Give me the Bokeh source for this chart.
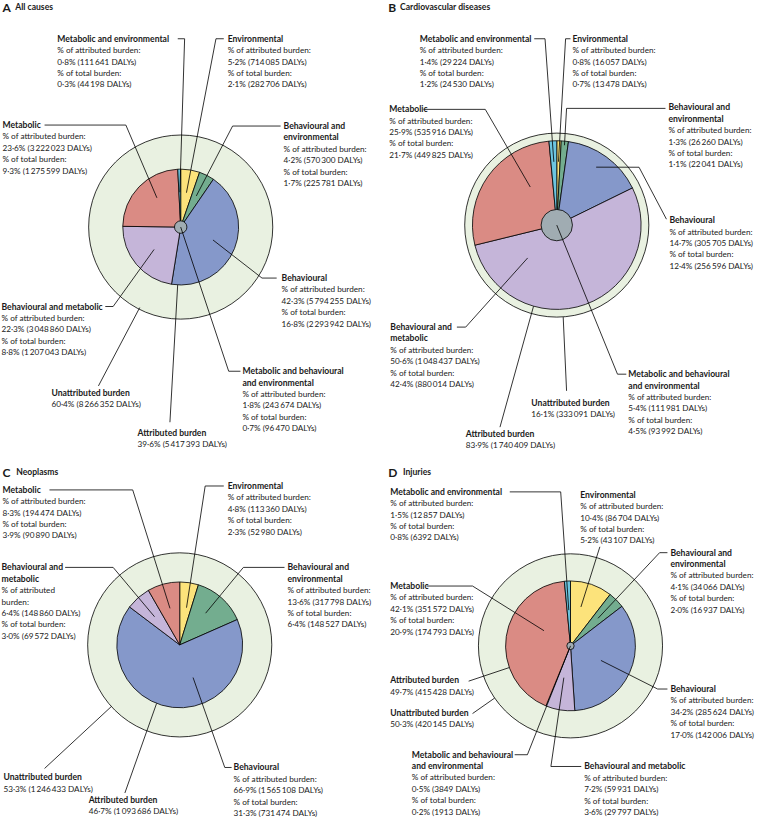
import math
from bokeh.plotting import figure
from bokeh.models import Range1d, ColumnDataSource
from bokeh.core.properties import value
from bokeh.embed import file_html
from bokeh.resources import INLINE

# ---------------- data ----------------
CATEGORIES = ["Environmental", "Behavioural and environmental", "Behavioural",
              "Behavioural and metabolic", "Metabolic", "Metabolic and environmental"]
COLORS = ["#FCE37B", "#73AD8F", "#8598CA", "#C5B5D9", "#DA8B84", "#6CC5E0"]

# Panel A: All causes
A_PCT_ATTR = [5.2, 4.2, 42.3, 22.3, 23.6, 0.8]
A_DALY_ATTR = [714085, 570300, 5794255, 3048860, 3222023, 111641]
A_PCT_TOTAL = [2.1, 1.7, 16.8, 8.8, 9.3, 0.3]
A_DALY_TOTAL = [282706, 225781, 2293942, 1207043, 1275599, 44198]
A_MBE = [1.8, 243674, 0.7, 96470]
A_ATTRIBUTED = [39.6, 5417393]
A_UNATTRIBUTED = [60.4, 8266352]

# Panel B: Cardiovascular diseases
B_PCT_ATTR = [0.8, 1.3, 14.7, 50.6, 25.9, 1.4]
B_DALY_ATTR = [16057, 26260, 305705, 1048437, 535916, 29224]
B_PCT_TOTAL = [0.7, 1.1, 12.4, 42.4, 21.7, 1.2]
B_DALY_TOTAL = [13478, 22041, 256596, 880014, 449825, 24530]
B_MBE = [5.4, 111981, 4.5, 93992]
B_ATTRIBUTED = [83.9, 1740409]
B_UNATTRIBUTED = [16.1, 333091]

# Panel C: Neoplasms
C_PCT_ATTR = [4.8, 13.6, 66.9, 6.4, 8.3, None]
C_DALY_ATTR = [113360, 317798, 1565108, 148860, 194474, None]
C_PCT_TOTAL = [2.3, 6.4, 31.3, 3.0, 3.9, None]
C_DALY_TOTAL = [52980, 148527, 731474, 69572, 90890, None]
C_MBE = None
C_ATTRIBUTED = [46.7, 1093686]
C_UNATTRIBUTED = [53.3, 1246433]

# Panel D: Injuries
D_PCT_ATTR = [10.4, 4.1, 34.2, 7.2, 42.1, 1.5]
D_DALY_ATTR = [86704, 34066, 285624, 59931, 351572, 12857]
D_PCT_TOTAL = [5.2, 2.0, 17.0, 3.6, 20.9, 0.8]
D_DALY_TOTAL = [43107, 16937, 142006, 29797, 174793, 6392]
D_MBE = [0.5, 3849, 0.2, 1913]
D_ATTRIBUTED = [49.7, 415428]
D_UNATTRIBUTED = [50.3, 420145]

PANEL_LETTERS = ["A", "B", "C", "D"]
PANEL_TITLES = ["All causes", "Cardiovascular diseases", "Neoplasms", "Injuries"]

# ---------------- style / layout ----------------
RING_COLOR = "#E9F1E1"
GREY_COLOR = "#A0ACB2"
R_OUT = 94
GREY_SCALE = 0.8
LW = 0.8
FONT = "Lato"
FS_BOLD = "8.6px"
FS = "8.2px"
LH = 11.6

LAYOUT_A = dict(center=(184, 231), head=(2, 15, 7), labels=[
    dict(key=5, x=58, y=39, title=["Metabolic and environmental"], path=[(181, 39), (188, 39)], target=("slice", 5, 0.5, 0.6)),
    dict(key=0, x=232, y=39, title=["Environmental"], path=[(228, 39), (220, 39)], target=("slice", 0, 0.5, 0.6)),
    dict(key=1, x=289, y=128, title=["Behavioural and", "environmental"], path=[(286, 128), (237, 128)], target=("slice", 1, 0.5, 0.6)),
    dict(key=4, x=2, y=127, title=["Metabolic"], path=[(45, 127), (128, 127)], target=("slice", 4, 0.58, 0.65)),
    dict(key=2, x=287, y=283, title=["Behavioural"], path=[(282, 283), (267, 283)], target=("slice", 2, 0.5, 0.6)),
    dict(key=3, x=1, y=312, title=["Behavioural and metabolic"], path=[(107, 312), (115, 312)], target=("slice", 3, 0.5, 0.6)),
    dict(key="mbe", x=247, y=378, title=["Metabolic and behavioural", "and environmental"], path=[(245, 378), (233, 378)], target=("center",)),
    dict(key="unattr", x=52, y=400, title=["Unattributed burden"], path=[(100, 393)], target=("out", 207, 0.98)),
    dict(key="attr", x=140, y=441, title=["Attributed burden"], path=[(173, 430)], target=("in", 183)),
])
LAYOUT_B = dict(center=(568, 229), head=(396, 408, 7), labels=[
    dict(key=5, x=428, y=39, title=["Metabolic and environmental"], path=[(545, 39), (556, 39)], target=("slice", 5, 0.5, 0.75)),
    dict(key=0, x=584, y=39, title=["Environmental"], path=[(582, 39), (577, 39)], target=("slice", 0, 0.5, 0.75)),
    dict(key=1, x=682, y=109, title=["Behavioural and", "environmental"], path=[(679, 110), (578, 110)], target=("slice", 1, 0.5, 0.95)),
    dict(key=4, x=397, y=111, title=["Metabolic"], path=[(432, 111), (495, 111)], target=("slice", 4, 0.7, 0.55)),
    dict(key=2, x=683, y=224, title=["Behavioural"], path=[(680, 223), (652, 170)], target=("slice", 2, 0.47, 0.83)),
    dict(key=3, x=398, y=333, title=["Behavioural and", "metabolic"], path=[(466, 333), (475, 333)], target=("slice", 3, 0.82, 0.52)),
    dict(key="mbe", x=641, y=381, title=["Metabolic and behavioural", "and environmental"], path=[(639, 381), (630, 381)], target=("center",)),
    dict(key="unattr", x=542, y=410, title=["Unattributed burden"], path=[(578, 398)], target=("out", 176, 1.0)),
    dict(key="attr", x=475, y=442, title=["Attributed burden"], path=[(510, 435)], target=("in", 196)),
])
LAYOUT_C = dict(center=(183, 657), head=(2, 16, 481), labels=[
    dict(key=4, x=2, y=499, title=["Metabolic"], path=[(50, 499), (135, 499)], target=("slice", 4, 0.5, 0.6)),
    dict(key=0, x=232, y=495, title=["Environmental"], path=[(228, 495), (209, 495)], target=("slice", 0, 0.6, 0.6)),
    dict(key=1, x=293, y=578, title=["Behavioural and", "environmental"], path=[(290, 578), (248, 578)], target=("slice", 1, 0.45, 0.65)),
    dict(key=3, x=1, y=578, title=["Behavioural and", "metabolic"], split=True, path=[(66, 578), (115, 578)], target=("slice", 3, 0.48, 0.6)),
    dict(key=2, x=238, y=782, title=["Behavioural"], path=[(236, 782), (229, 782)], target=("slice", 2, 0.38, 0.56)),
    dict(key="unattr", x=3, y=792, title=["Unattributed burden"], path=[(45, 783)], target=("out", 228, 1.0)),
    dict(key="attr", x=90, y=815, title=["Attributed burden"], path=[(127, 808)], target=("in", 201.6)),
])
LAYOUT_D = dict(center=(582, 658), head=(396, 411, 481), labels=[
    dict(key=5, x=398, y=501, title=["Metabolic and environmental"], path=[(520, 501), (572, 501)], target=("slice", 5, 0.5, 0.55)),
    dict(key=0, x=592, y=504, title=["Environmental"], path=[(612, 557)], target=("slice", 0, 0.4, 0.62)),
    dict(key=1, x=684, y=563, title=["Behavioural and", "environmental"], path=[(681, 563), (673, 563)], target=("slice", 1, 0.5, 0.6)),
    dict(key=4, x=398, y=597, title=["Metabolic"], path=[(435, 597), (482, 597)], target=("slice", 4, 0.64, 0.47)),
    dict(key="attr", x=398, y=693, title=["Attributed burden"], path=[(478, 694)], target=("in", 250.5)),
    dict(key="unattr", x=398, y=726, title=["Unattributed burden"], path=[(482, 727)], target=("out", 235.5, 1.0)),
    dict(key=2, x=684, y=702, title=["Behavioural"], path=[(681, 702), (671, 702)], target=("slice", 2, 0.51, 0.52)),
    dict(key="mbe", x=420, y=769, title=["Metabolic and behavioural", "and environmental"], path=[(525, 769), (538, 769)], target=("center",)),
    dict(key=3, x=596, y=781, title=["Behavioural and metabolic"], path=[(593, 781), (562, 781)], target=("slice", 3, 0.6, 0.5)),
])

PANELS = [
    (A_PCT_ATTR, A_DALY_ATTR, A_PCT_TOTAL, A_DALY_TOTAL, A_MBE, A_ATTRIBUTED, A_UNATTRIBUTED, LAYOUT_A),
    (B_PCT_ATTR, B_DALY_ATTR, B_PCT_TOTAL, B_DALY_TOTAL, B_MBE, B_ATTRIBUTED, B_UNATTRIBUTED, LAYOUT_B),
    (C_PCT_ATTR, C_DALY_ATTR, C_PCT_TOTAL, C_DALY_TOTAL, C_MBE, C_ATTRIBUTED, C_UNATTRIBUTED, LAYOUT_C),
    (D_PCT_ATTR, D_DALY_ATTR, D_PCT_TOTAL, D_DALY_TOTAL, D_MBE, D_ATTRIBUTED, D_UNATTRIBUTED, LAYOUT_D),
]


def fmt_n(n):
    return f"{n:,}".replace(",", "\u2009") if n >= 10000 else str(n)


def fmt_p(v):
    return f"{v:.1f}".replace(".", "\u00b7") + "%"


W, H = 759, 817
p = figure(width=W, height=H, x_range=Range1d(0, 775), y_range=Range1d(-833, 0),
           output_backend="svg", toolbar_location=None, x_axis_type=None, y_axis_type=None,
           min_border=0)
p.outline_line_color = None
p.background_fill_color = "white"
p.border_fill_color = "white"

bold = dict(x=[], y=[], text=[], size=[])
normal = dict(x=[], y=[], text=[])
leaders_xs, leaders_ys = [], []

for k, (pa, da, pt, dt, mbe, attributed, unattributed, lay) in enumerate(PANELS):
    cx, cy = lay["center"]
    r_in = R_OUT * math.sqrt(attributed[0] / 100.0)
    # outer ring = total burden
    p.circle(x=[cx], y=[-cy], radius=R_OUT, fill_color=RING_COLOR, line_color="black", line_width=LW)
    idx = [i for i, v in enumerate(pa) if v is not None]
    tot = sum(pa[i] for i in idx)
    starts, ends = {}, {}
    cum = 0.0
    for i in idx:
        starts[i] = cum / tot
        cum += pa[i]
        ends[i] = cum / tot
    src = ColumnDataSource(dict(
        x=[cx] * len(idx), y=[-cy] * len(idx),
        start=[math.pi / 2 - 2 * math.pi * starts[i] for i in idx],
        end=[math.pi / 2 - 2 * math.pi * ends[i] for i in idx],
        color=[COLORS[i] for i in idx],
        name=[CATEGORIES[i] for i in idx],
    ))
    p.wedge(x="x", y="y", radius=r_in, start_angle="start", end_angle="end", direction="clock",
            fill_color="color", line_color="black", line_width=LW, source=src)
    if mbe is not None:
        p.circle(x=[cx], y=[-cy], radius=r_in * math.sqrt(mbe[0] / 100.0) * GREY_SCALE,
                 fill_color=GREY_COLOR, line_color="black", line_width=LW)

    # heading
    hx1, hx2, hy = lay["head"]
    bold["x"] += [hx1, hx2]
    bold["y"] += [-hy, -hy]
    bold["text"] += [PANEL_LETTERS[k], PANEL_TITLES[k]]
    bold["size"] += ["12px", FS_BOLD]

    for lab in lay["labels"]:
        key = lab["key"]
        if key == "mbe":
            body = ["% of attributed burden:", f"{fmt_p(mbe[0])} ({fmt_n(mbe[1])} DALYs)",
                    "% of total burden:", f"{fmt_p(mbe[2])} ({fmt_n(mbe[3])} DALYs)"]
        elif key == "attr":
            body = [f"{fmt_p(attributed[0])} ({fmt_n(attributed[1])} DALYs)"]
        elif key == "unattr":
            body = [f"{fmt_p(unattributed[0])} ({fmt_n(unattributed[1])} DALYs)"]
        else:
            first = ["% of attributed", "burden:"] if lab.get("split") else ["% of attributed burden:"]
            body = first + [f"{fmt_p(pa[key])} ({fmt_n(da[key])} DALYs)",
                            "% of total burden:", f"{fmt_p(pt[key])} ({fmt_n(dt[key])} DALYs)"]
        yy = lab["y"]
        for t in lab["title"]:
            bold["x"].append(lab["x"]); bold["y"].append(-yy); bold["text"].append(t); bold["size"].append(FS_BOLD)
            yy += LH
        for t in body:
            normal["x"].append(lab["x"]); normal["y"].append(-yy); normal["text"].append(t)
            yy += LH
        # leader line
        tg = lab["target"]
        if tg[0] == "slice":
            i, fa, fr = tg[1], tg[2], tg[3]
            th = 2 * math.pi * (starts[i] + fa * (ends[i] - starts[i]))
            ex, ey = cx + fr * r_in * math.sin(th), cy - fr * r_in * math.cos(th)
        elif tg[0] == "center":
            ex, ey = cx, cy
        elif tg[0] == "in":
            th = math.radians(tg[1])
            ex, ey = cx + r_in * math.sin(th), cy - r_in * math.cos(th)
        else:
            th = math.radians(tg[1])
            ex, ey = cx + tg[2] * R_OUT * math.sin(th), cy - tg[2] * R_OUT * math.cos(th)
        pts = list(lab["path"]) + [(ex, ey)]
        leaders_xs.append([q[0] for q in pts])
        leaders_ys.append([-q[1] for q in pts])

p.multi_line(xs=leaders_xs, ys=leaders_ys, line_color="black", line_width=LW)
p.text(x="x", y="y", text="text", source=ColumnDataSource(bold), text_font=value(FONT),
       text_font_size="size", text_font_style="bold", text_baseline="middle", text_align="left",
       text_color="#1a1a1a")
p.text(x="x", y="y", text="text", source=ColumnDataSource(normal), text_font=value(FONT),
       text_font_size=value(FS), text_baseline="middle", text_align="left", text_color="#1a1a1a")

open("out.html", "w").write(file_html(p, INLINE))
